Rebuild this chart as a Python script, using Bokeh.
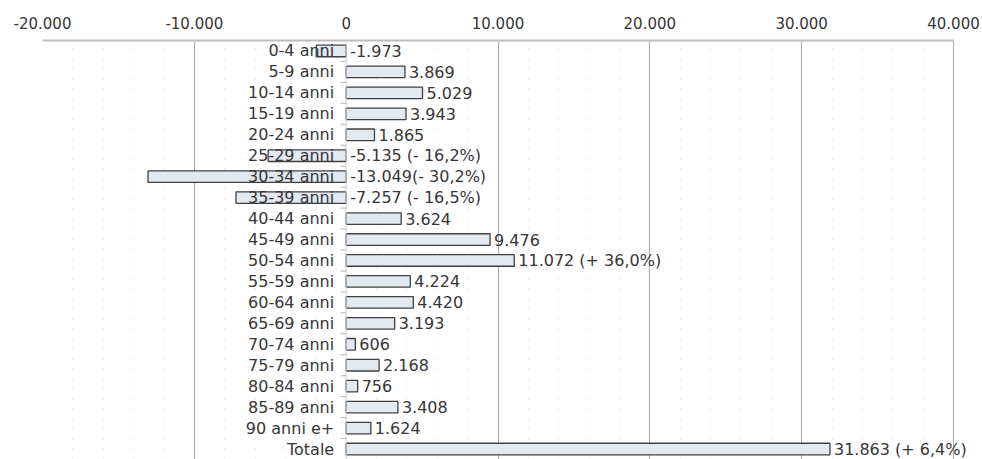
from bokeh.plotting import figure
from bokeh.models import (FactorRange, Range1d, FixedTicker, Span,
                          ColumnDataSource)
from bokeh.transform import dodge
from bokeh.core.properties import value
from bokeh.embed import file_html
from bokeh.resources import INLINE

# Population change by age class
age_classes = ["0-4 anni", "5-9 anni", "10-14 anni", "15-19 anni", "20-24 anni",
               "25-29 anni", "30-34 anni", "35-39 anni", "40-44 anni", "45-49 anni",
               "50-54 anni", "55-59 anni", "60-64 anni", "65-69 anni", "70-74 anni",
               "75-79 anni", "80-84 anni", "85-89 anni", "90 anni e+", "Totale"]
changes = [-1973, 3869, 5029, 3943, 1865, -5135, -13049, -7257, 3624, 9476,
           11072, 4224, 4420, 3193, 606, 2168, 756, 3408, 1624, 31863]
pct_notes = {"25-29 anni": " (- 16,2%)", "30-34 anni": "(- 30,2%)",
             "35-39 anni": " (- 16,5%)", "50-54 anni": " (+ 36,0%)",
             "Totale": " (+ 6,4%)"}
axis_ticks = [-20000, -10000, 0, 10000, 20000, 30000, 40000]


def it_num(v):
    return f"{v:,}".replace(",", ".")


labels = [it_num(v) + pct_notes.get(c, "") for c, v in zip(age_classes, changes)]
label_x = [max(v, 0) for v in changes]

src = ColumnDataSource(dict(cat=age_classes, val=changes, zero=[0] * len(changes),
                            lab=labels, lx=label_x))

FONT = "DejaVu Sans"
TXT = "#363636"

# frame runs to the right edge so the longest value label is not clipped;
# the axis line and grid stop at the last tick
W_PLOT = 982
LEFT_PAD = 42
RIGHT_TICK_PX = 953
units_per_px = (axis_ticks[-1] - axis_ticks[0]) / (RIGHT_TICK_PX - LEFT_PAD)
x_end = axis_ticks[-1] + (W_PLOT - RIGHT_TICK_PX) * units_per_px

p = figure(width=W_PLOT, height=459, output_backend="svg", toolbar_location=None,
           y_range=FactorRange(factors=list(reversed(age_classes)), range_padding=0),
           x_range=Range1d(axis_ticks[0], x_end),
           x_axis_location="above", y_axis_location=None,
           min_border_left=LEFT_PAD, min_border_right=0, min_border_top=40,
           min_border_bottom=0)
p.outline_line_color = None
p.background_fill_color = "white"

# top value axis
minor = list(range(axis_ticks[0], axis_ticks[-1] + 1, 2000))
p.xaxis.ticker = FixedTicker(ticks=axis_ticks, minor_ticks=minor)
p.xaxis.bounds = (axis_ticks[0], axis_ticks[-1])
p.xaxis.major_label_overrides = {t: it_num(t) for t in axis_ticks}
p.xaxis.major_label_text_font = FONT
p.xaxis.major_label_text_font_size = "15px"
p.xaxis.major_label_text_color = TXT
p.xaxis.axis_line_color = "#bdbdbd"
p.xaxis.axis_line_width = 2
p.xaxis.major_tick_line_color = None
p.xaxis.minor_tick_line_color = None
p.xaxis.major_label_standoff = 6

# grid: solid majors, faint dotted minors; zero line drawn separately
p.xgrid.ticker = FixedTicker(ticks=[t for t in axis_ticks if t != 0], minor_ticks=minor)
p.xgrid.grid_line_color = "#a8a8a8"
p.xgrid.grid_line_width = 1
p.xgrid.minor_grid_line_color = "#d9d9d9"
p.xgrid.minor_grid_line_dash = "1 9"
p.ygrid.grid_line_color = None

p.add_layout(Span(location=0, dimension="height", line_color="#d4d4d4", line_width=1))

# category separators on the zero axis
p.scatter(x=-170, y=dodge("cat", -0.5, range=p.y_range), source=src,
          marker="dash", size=6, line_color="#b5b5b5", line_width=1)

p.hbar(y="cat", left="zero", right="val", height=0.55, source=src,
       fill_color="#e2e9f1", line_color="#404040", line_width=1.3)

p.text(x="zero", y="cat", text="cat", source=src, x_offset=-12,
       text_align="right", text_baseline="middle", text_font=value(FONT),
       text_font_size="16px", text_color=TXT)

p.text(x="lx", y="cat", text="lab", source=src, x_offset=4,
       text_align="left", text_baseline="middle", text_font=value(FONT),
       text_font_size="16px", text_color=TXT)

open("out.html", "w").write(file_html(p, INLINE))
